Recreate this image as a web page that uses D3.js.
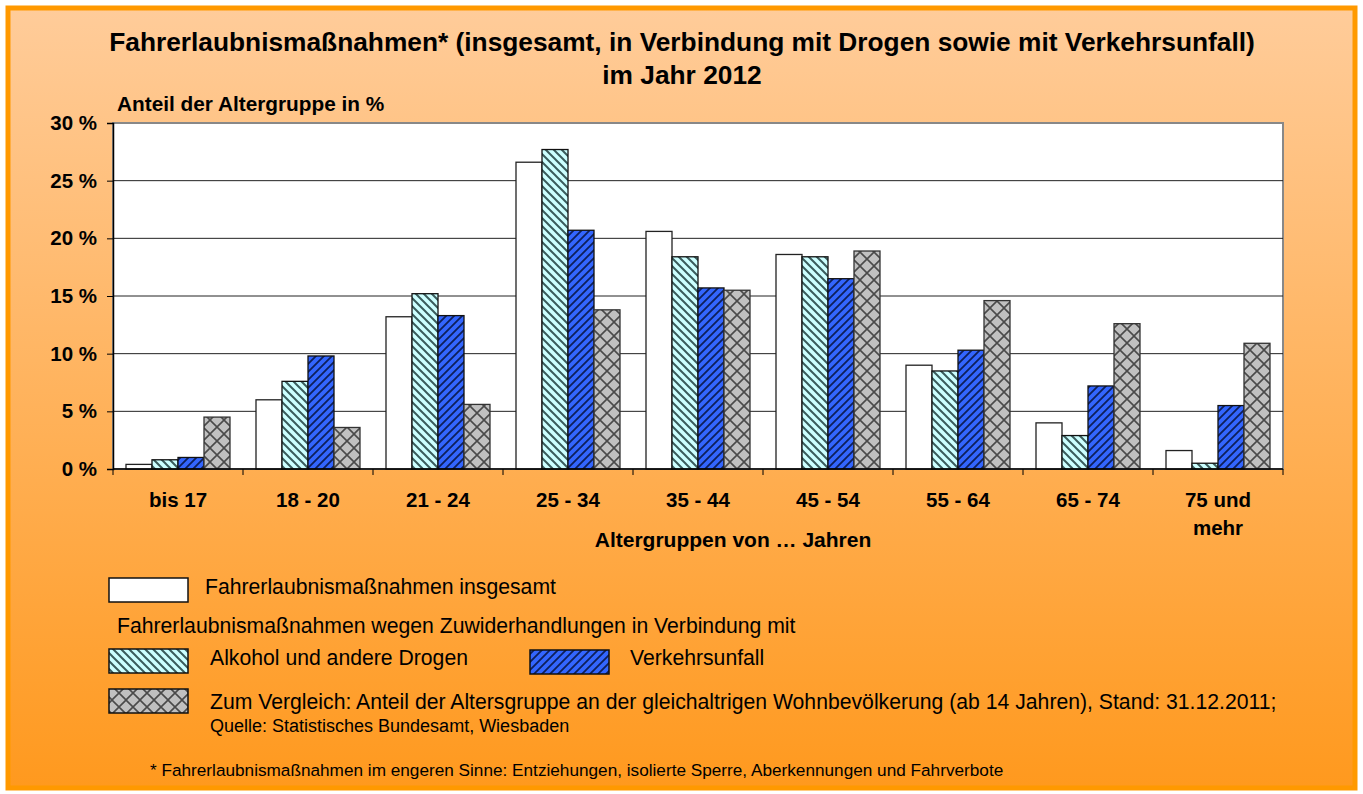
<!DOCTYPE html>
<html>
<head>
<meta charset="utf-8">
<script src="https://cdn.jsdelivr.net/npm/d3@7"></script>
<style>
  body { margin: 0; background: #fff; }
  svg { display: block; font-family: "Liberation Sans", Arial, sans-serif; }
</style>
</head>
<body>
<div id="chart"></div>
<script>
var categories = ["bis 17", "18 - 20", "21 - 24", "25 - 34", "35 - 44", "45 - 54", "55 - 64", "65 - 74", "75 und|mehr"];
var series = ["insgesamt", "drogen", "unfall", "bevoelkerung"];

// Anteil der Altersgruppe in %
var insgesamt    = [0.4, 6.0, 13.2, 26.6, 20.6, 18.6, 9.0, 4.0, 1.6];
var drogen       = [0.8, 7.6, 15.2, 27.7, 18.4, 18.4, 8.5, 2.9, 0.5];
var unfall       = [1.0, 9.8, 13.3, 20.7, 15.7, 16.5, 10.3, 7.2, 5.5];
var bevoelkerung = [4.5, 3.6, 5.6, 13.8, 15.5, 18.9, 14.6, 12.6, 10.9];

var yTicks = [0, 5, 10, 15, 20, 25, 30];

(function () {
  var width = 1363, height = 794;
  var values = { insgesamt: insgesamt, drogen: drogen, unfall: unfall, bevoelkerung: bevoelkerung };

  var svg = d3.select("#chart").append("svg")
    .attr("width", width)
    .attr("height", height);

  var defs = svg.append("defs");

  var bg = defs.append("linearGradient").attr("id", "bg")
    .attr("x1", 0).attr("y1", 0).attr("x2", 0).attr("y2", 1);
  bg.append("stop").attr("offset", "0%").attr("stop-color", "#ffcc9a");
  bg.append("stop").attr("offset", "100%").attr("stop-color", "#ff991e");

  // teal: "\" hatch
  var pTeal = defs.append("pattern").attr("id", "pTeal")
    .attr("patternUnits", "userSpaceOnUse").attr("width", 8).attr("height", 8);
  pTeal.append("rect").attr("width", 8).attr("height", 8).attr("fill", "#ccffff");
  pTeal.append("path").attr("d", "M-2,-2 L10,10 M-2,6 L2,10 M6,-2 L10,2")
    .attr("stroke", "#3a5c5c").attr("stroke-width", 2);

  // blue: "/" hatch
  var pBlue = defs.append("pattern").attr("id", "pBlue")
    .attr("patternUnits", "userSpaceOnUse").attr("width", 8).attr("height", 8);
  pBlue.append("rect").attr("width", 8).attr("height", 8).attr("fill", "#3366ff");
  pBlue.append("path").attr("d", "M-2,10 L10,-2 M-2,2 L2,-2 M6,10 L10,6")
    .attr("stroke", "#0d1f5c").attr("stroke-width", 1.8);

  // gray: diamond crosshatch
  var pGray = defs.append("pattern").attr("id", "pGray")
    .attr("patternUnits", "userSpaceOnUse").attr("width", 14).attr("height", 14);
  pGray.append("rect").attr("width", 14).attr("height", 14).attr("fill", "#c0c0c0");
  pGray.append("path").attr("d", "M0,0 L14,14 M14,0 L0,14")
    .attr("stroke", "#4a4a4a").attr("stroke-width", 1.6);

  var fills = { insgesamt: "#ffffff", drogen: "url(#pTeal)", unfall: "url(#pBlue)", bevoelkerung: "url(#pGray)" };
  var strokes = { insgesamt: "#222", drogen: "#111", unfall: "#111", bevoelkerung: "#333" };

  // background + frame
  svg.append("rect").attr("x", 8).attr("y", 8).attr("width", width - 16).attr("height", height - 14)
    .attr("fill", "url(#bg)").attr("stroke", "#ff9900").attr("stroke-width", 5);

  var m = { left: 113, right: 1283, top: 123, bottom: 469 };

  var x0 = d3.scaleBand().domain(categories).range([m.left, m.right])
    .paddingInner(0.2).paddingOuter(0.1);
  var x1 = d3.scaleBand().domain(series).range([0, x0.bandwidth()]);
  var y = d3.scaleLinear().domain([0, 30]).range([m.bottom, m.top]);

  // plot area
  svg.append("rect").attr("x", m.left).attr("y", m.top)
    .attr("width", m.right - m.left).attr("height", m.bottom - m.top)
    .attr("fill", "#fff").attr("stroke", "#888").attr("stroke-width", 2);

  // gridlines
  svg.append("g").selectAll("line").data(yTicks.filter(function (d) { return d > 0 && d < 30; }))
    .enter().append("line")
    .attr("x1", m.left).attr("x2", m.right)
    .attr("y1", function (d) { return y(d); }).attr("y2", function (d) { return y(d); })
    .attr("stroke", "#222").attr("stroke-width", 1);

  // bars
  var groups = svg.append("g").selectAll("g").data(categories).enter().append("g")
    .attr("transform", function (d) { return "translate(" + x0(d) + ",0)"; });

  groups.selectAll("rect")
    .data(function (d, i) { return series.map(function (s) { return { s: s, v: values[s][i] }; }); })
    .enter().append("rect")
    .attr("x", function (d) { return x1(d.s); })
    .attr("y", function (d) { return y(d.v); })
    .attr("width", x1.bandwidth())
    .attr("height", function (d) { return y(0) - y(d.v); })
    .attr("fill", function (d) { return fills[d.s]; })
    .attr("stroke", function (d) { return strokes[d.s]; })
    .attr("stroke-width", 1.3);

  // y axis
  var yAxis = d3.axisLeft(y).tickValues(yTicks).tickSize(6).tickPadding(10)
    .tickFormat(function (d) { return d + " %"; });
  var gy = svg.append("g").attr("transform", "translate(" + m.left + ",0)").call(yAxis);
  gy.select(".domain").attr("stroke", "#000").attr("stroke-width", 1.5);
  gy.selectAll(".tick line").attr("stroke", "#000");
  gy.selectAll(".tick text").attr("font-size", 20.5).attr("font-weight", "bold")
    .attr("font-family", "Liberation Sans, Arial, sans-serif").attr("fill", "#000");

  // x axis
  var gx = svg.append("g").attr("transform", "translate(0," + m.bottom + ")");
  gx.append("line").attr("x1", m.left).attr("x2", m.right).attr("stroke", "#000").attr("stroke-width", 1.5);
  var step = x0.step();
  gx.selectAll(".tk").data(categories).enter().append("line")
    .attr("x1", function (d) { return x0(d) + x0.bandwidth() / 2 + step / 2; })
    .attr("x2", function (d) { return x0(d) + x0.bandwidth() / 2 + step / 2; })
    .attr("y1", 0).attr("y2", 6).attr("stroke", "#000");
  gx.append("line").attr("x1", m.left).attr("x2", m.left).attr("y1", 0).attr("y2", 6).attr("stroke", "#000");

  var xl = gx.selectAll(".lbl").data(categories).enter().append("text")
    .attr("x", function (d) { return x0(d) + x0.bandwidth() / 2; })
    .attr("y", 38)
    .attr("text-anchor", "middle").attr("font-size", 20.5).attr("font-weight", "bold");
  xl.selectAll("tspan").data(function (d) { return d.split("|"); }).enter().append("tspan")
    .attr("x", function () { return d3.select(this.parentNode).attr("x"); })
    .attr("dy", function (d, i) { return i === 0 ? 0 : 28; })
    .text(function (d) { return d; });

  // titles
  svg.append("text").attr("x", 682).attr("y", 51).attr("text-anchor", "middle")
    .attr("font-size", 26.3).attr("font-weight", "bold")
    .text("Fahrerlaubnismaßnahmen* (insgesamt, in Verbindung mit Drogen sowie mit Verkehrsunfall)");
  svg.append("text").attr("x", 682).attr("y", 84).attr("text-anchor", "middle")
    .attr("font-size", 26.3).attr("font-weight", "bold").text("im Jahr 2012");
  svg.append("text").attr("x", 117).attr("y", 111)
    .attr("font-size", 20.8).attr("font-weight", "bold").text("Anteil der Altergruppe in %");
  svg.append("text").attr("x", 733).attr("y", 547).attr("text-anchor", "middle")
    .attr("font-size", 21).attr("font-weight", "bold").text("Altergruppen von … Jahren");

  // legend
  var leg = svg.append("g");
  function box(x, yy, s) {
    leg.append("rect").attr("x", x).attr("y", yy).attr("width", 79).attr("height", 24)
      .attr("fill", fills[s]).attr("stroke", "#111").attr("stroke-width", 1.5);
  }
  function txt(x, yy, t, size) {
    leg.append("text").attr("x", x).attr("y", yy).attr("font-size", size || 21.2).text(t);
  }
  box(109, 578, "insgesamt");
  txt(205, 594, "Fahrerlaubnismaßnahmen insgesamt");
  txt(117, 633, "Fahrerlaubnismaßnahmen wegen Zuwiderhandlungen in Verbindung mit");
  box(109, 649, "drogen");
  txt(210, 665, "Alkohol und andere Drogen");
  box(530, 650, "unfall");
  txt(630, 665, "Verkehrsunfall");
  box(109, 689, "bevoelkerung");
  txt(210, 709, "Zum Vergleich: Anteil der Altersgruppe an der gleichaltrigen Wohnbevölkerung (ab 14 Jahren), Stand: 31.12.2011;");
  txt(210, 732, "Quelle: Statistisches Bundesamt, Wiesbaden", 18);
  txt(150, 776, "* Fahrerlaubnismaßnahmen im engeren Sinne: Entziehungen, isolierte Sperre, Aberkennungen und Fahrverbote", 17.2);
})();
</script>
</body>
</html>
